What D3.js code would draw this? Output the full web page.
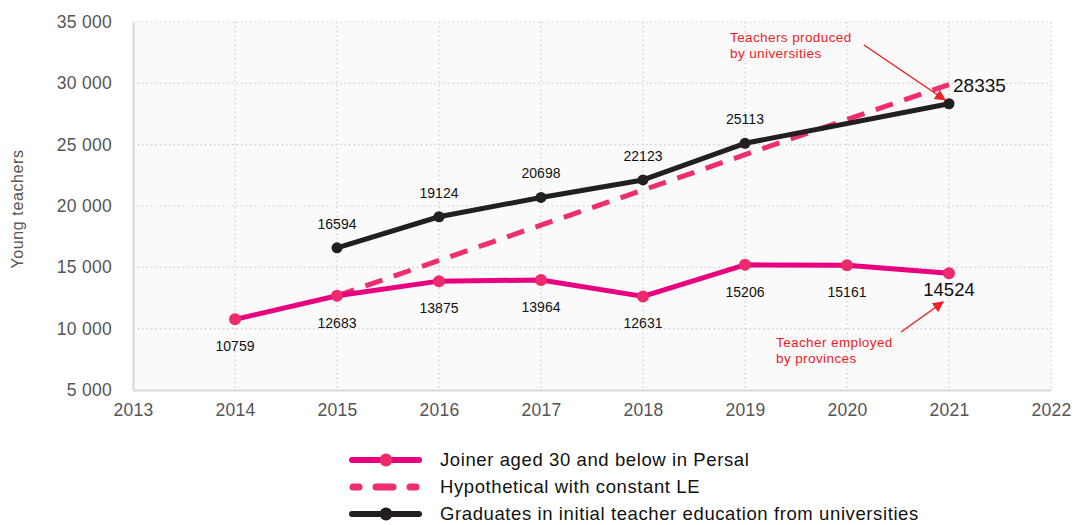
<!DOCTYPE html>
<html>
<head>
<meta charset="utf-8">
<script src="https://cdn.jsdelivr.net/npm/d3@7"></script>
<style>
  body { margin: 0; background: #fff; }
  svg { font-family: "Liberation Sans", Arial, sans-serif; }
</style>
</head>
<body>
<svg width="1076" height="525"></svg>
<script>
const years = [2014, 2015, 2016, 2017, 2018, 2019, 2020, 2021];
const joiners = [10759, 12683, 13875, 13964, 12631, 15206, 15161, 14524];
const gradYears = [2015, 2016, 2017, 2018, 2019, 2021];
const graduates = [16594, 19124, 20698, 22123, 25113, 28335];
const hypoYears = [2015, 2016, 2017, 2018, 2019, 2020, 2021];
const hypothetical = [12683, 15560, 18440, 21300, 24180, 27050, 29900];
const yTicks = [5000, 10000, 15000, 20000, 25000, 30000, 35000];
const xTicks = [2013, 2014, 2015, 2016, 2017, 2018, 2019, 2020, 2021, 2022];
const legendLabels = ["Joiner aged 30 and below in Persal", "Hypothetical with constant LE", "Graduates in initial teacher education from universities"];

const svg = d3.select("svg");
const pink = "#e8007f", pinkDot = "#ec2a6c", dash = "#ef2d6f", black = "#231f20", red = "#ec2227";

const x = d3.scaleLinear().domain([2013, 2022]).range([133, 1051]);
const y = d3.scaleLinear().domain([5000, 35000]).range([390, 22]);

svg.append("defs").append("marker")
  .attr("id", "arr").attr("viewBox", "0 0 10 10").attr("refX", 9).attr("refY", 5)
  .attr("markerWidth", 11).attr("markerHeight", 11).attr("markerUnits", "userSpaceOnUse")
  .attr("orient", "auto")
  .append("path").attr("d", "M0,0L10,5L0,10z").attr("fill", red);

svg.append("rect").attr("x", x(2013)).attr("y", y(35000))
  .attr("width", x(2022) - x(2013)).attr("height", y(5000) - y(35000)).attr("fill", "#fafafa");

// grid
svg.append("g").selectAll("line").data(yTicks.filter(d => d > 5000)).join("line")
  .attr("x1", x(2013)).attr("x2", x(2022)).attr("y1", d => y(d)).attr("y2", d => y(d))
  .attr("stroke", "#cfcfcf").attr("stroke-dasharray", "1.5,3").attr("stroke-width", 1.2);
svg.append("g").selectAll("line").data(xTicks.filter(d => d > 2013)).join("line")
  .attr("x1", d => x(d)).attr("x2", d => x(d)).attr("y1", y(35000)).attr("y2", y(5000))
  .attr("stroke", "#cfcfcf").attr("stroke-dasharray", "1.5,3").attr("stroke-width", 1.2);

// axes
const fmt = d => d3.format(",")(d).replace(",", " ");
const yAxis = svg.append("g").attr("transform", `translate(${x(2013)},0)`)
  .call(d3.axisLeft(y).tickValues(yTicks).tickFormat(fmt).tickSize(0).tickPadding(21));
const xAxis = svg.append("g").attr("transform", `translate(0,${y(5000)})`)
  .call(d3.axisBottom(x).tickValues(xTicks).tickFormat(d3.format("d")).tickSize(0).tickPadding(14));
[yAxis, xAxis].forEach(a => {
  a.select(".domain").attr("stroke", "#d8d8d8").attr("stroke-width", 2);
  a.selectAll("text").attr("font-size", 17.5).attr("fill", "#555")
    .attr("font-family", "Liberation Sans, Arial").attr("letter-spacing", 0.3);
});

svg.append("text").attr("transform", `translate(23,209) rotate(-90)`)
  .attr("text-anchor", "middle").attr("font-size", 16).attr("letter-spacing", 0.6)
  .attr("fill", "#555").text("Young teachers");

const line = d3.line().x(d => x(d[0])).y(d => y(d[1]));

// hypothetical
const hypoPts = hypoYears.map((d, i) => [d, hypothetical[i]]);
svg.append("path").datum(hypoPts).attr("d", line)
  .attr("fill", "none").attr("stroke", dash).attr("stroke-width", 5)
  .attr("stroke-dasharray", "18,12");

// graduates
const gradPts = gradYears.map((d, i) => [d, graduates[i]]);
svg.append("path").datum(gradPts).attr("d", line)
  .attr("fill", "none").attr("stroke", black).attr("stroke-width", 5).attr("stroke-linejoin", "round");
svg.append("g").selectAll("circle").data(gradPts).join("circle")
  .attr("cx", d => x(d[0])).attr("cy", d => y(d[1])).attr("r", 5.5).attr("fill", black);
svg.append("g").selectAll("text").data(gradPts).join("text")
  .attr("x", d => d[0] === 2021 ? x(d[0]) + 4 : x(d[0]))
  .attr("y", d => d[0] === 2021 ? y(d[1]) - 12 : y(d[1]) - 19)
  .attr("text-anchor", d => d[0] === 2021 ? "start" : "middle")
  .attr("font-size", d => d[0] === 2021 ? 19 : 14).attr("fill", "#111")
  .text(d => d[1]);

// joiners
const joinPts = years.map((d, i) => [d, joiners[i]]);
svg.append("path").datum(joinPts).attr("d", line)
  .attr("fill", "none").attr("stroke", pink).attr("stroke-width", 5).attr("stroke-linejoin", "round");
svg.append("g").selectAll("circle").data(joinPts).join("circle")
  .attr("cx", d => x(d[0])).attr("cy", d => y(d[1])).attr("r", 6).attr("fill", pinkDot);
svg.append("g").selectAll("text").data(joinPts).join("text")
  .attr("x", d => x(d[0]))
  .attr("y", d => d[0] === 2021 ? y(d[1]) + 23 : y(d[1]) + 32)
  .attr("text-anchor", "middle")
  .attr("font-size", d => d[0] === 2021 ? 18.5 : 14).attr("fill", "#111")
  .text(d => d[1]);

// annotations
const ann = svg.append("g").attr("fill", red).attr("font-size", 13.5).attr("letter-spacing", 0.4);
ann.append("text").attr("x", 730).attr("y", 42).text("Teachers produced");
ann.append("text").attr("x", 730).attr("y", 58).text("by universities");
ann.append("text").attr("x", 776).attr("y", 347).text("Teacher employed");
ann.append("text").attr("x", 776).attr("y", 363).text("by provinces");
svg.append("line").attr("x1", 864).attr("y1", 45).attr("x2", 945).attr("y2", 100)
  .attr("stroke", red).attr("stroke-width", 1.5).attr("marker-end", "url(#arr)");
svg.append("line").attr("x1", 901).attr("y1", 332).attr("x2", 943).attr("y2", 302)
  .attr("stroke", red).attr("stroke-width", 1.5).attr("marker-end", "url(#arr)");

// legend
const leg = svg.append("g");
legendLabels.forEach((t, i) => {
  const ly = 460 + i * 27;
  if (i === 1) {
    leg.append("line").attr("x1", 353).attr("x2", 418).attr("y1", ly).attr("y2", ly)
      .attr("stroke", dash).attr("stroke-width", 7).attr("stroke-linecap", "round")
      .attr("stroke-dasharray", "6,17,17,17");
  } else {
    const c = i === 0 ? pink : black;
    leg.append("line").attr("x1", 352).attr("x2", 419).attr("y1", ly).attr("y2", ly)
      .attr("stroke", c).attr("stroke-width", 6).attr("stroke-linecap", "round");
    leg.append("circle").attr("cx", 386).attr("cy", ly).attr("r", 6.5).attr("fill", i === 0 ? pinkDot : black);
  }
  leg.append("text").attr("x", 440).attr("y", ly + 6).attr("font-size", 18.5)
    .attr("letter-spacing", 0.6).attr("fill", "#111").text(t);
});
</script>
</body>
</html>
